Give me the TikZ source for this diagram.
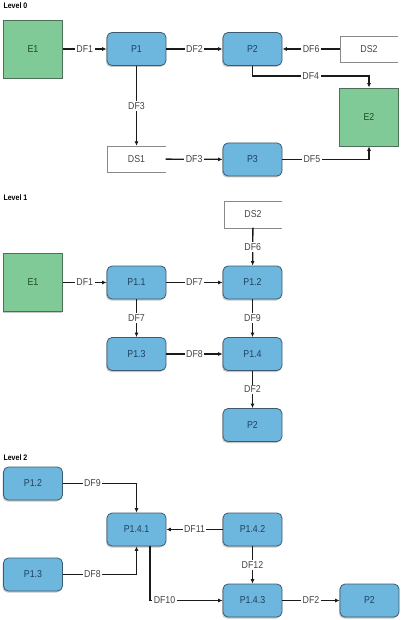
\documentclass[tikz,border=0pt]{standalone}
\usepackage{fontspec}
\setmainfont{Liberation Sans}[FakeStretch=0.88]
\usetikzlibrary{arrows.meta,shadows}

\definecolor{procfill}{HTML}{6DB6DE}
\definecolor{procline}{HTML}{3D5B6E}
\definecolor{proctext}{HTML}{1F3F5E}
\definecolor{entfill}{HTML}{80CA98}
\definecolor{entline}{HTML}{4E6E58}
\definecolor{enttext}{HTML}{1E4A2C}
\definecolor{storeline}{HTML}{8A8A8A}
\definecolor{flowline}{HTML}{1A1A1A}
\definecolor{lbltext}{HTML}{444444}

\tikzset{
  proc/.style={draw=procline, fill=procfill, rounded corners=5pt, line width=0.8pt,
    minimum width=59pt, minimum height=33pt, text=proctext,
    drop shadow={shadow xshift=-1pt, shadow yshift=-1.5pt, opacity=0.45}},
  ent/.style={draw=entline, fill=entfill, line width=0.8pt,
    minimum width=59pt, minimum height=58pt, text=enttext,
    drop shadow={shadow xshift=-1pt, shadow yshift=-1.5pt, opacity=0.45}},
  store/.style={minimum width=58pt, minimum height=26pt, text=lbltext},
  flow/.style={draw=flowline, line width=1.3pt, -{Latex[length=4.5pt,width=4pt]}},
  lbl/.style={fill=white, inner sep=1.5pt, text=lbltext},
  level/.style={anchor=west, font=\fontsize{8}{10}\selectfont\bfseries}
}

\begin{document}
\begin{tikzpicture}[x=1pt, y=-1pt, font=\fontsize{10}{12}\selectfont]
  \useasboundingbox (0,0) rectangle (400,620);

  % Level 0
  \node[level] (t0) at (0,6) {Level 0};
  \node[ent] (E1) at (33,49) {E1};
  \node[proc] (P1) at (136.5,49) {P1};
  \node[proc] (P2) at (252.5,49) {P2};
  \node[store] (DS2) at (369,49) {DS2};
  \node[ent] (E2) at (369,117) {E2};
  \node[store] (DS1) at (136.5,159) {DS1};
  \node[proc] (P3) at (252.5,159.5) {P3};
  \draw[storeline] (DS2.north east) -- (DS2.north west) -- (DS2.south west) -- (DS2.south east);
  \draw[storeline] (DS1.north east) -- (DS1.north west) -- (DS1.south west) -- (DS1.south east);
  % Draw the data flows
  \draw[flow] (E1) -- node[lbl] {DF1} (P1);
  \draw[flow] (P1) -- node[lbl] {DF2} (P2);
  \draw[flow] (DS2) -- node[lbl] {DF6} (P2);
  \draw[flow] (P2.south) -- ++(0,10) -| node[lbl, pos=0.25] {DF4} (E2.north);
  \draw[flow] (P1) -- node[lbl] {DF3} (DS1);
  \draw[flow] (DS1) -- node[lbl] {DF3} (P3);
  \draw[flow] (P3) -| node[lbl, pos=0.17] {DF5} (E2.south);

  % Level 1
  \node[level] (t1) at (0,198) {Level 1};
  \node[store] (DS2b) at (253,214.5) {DS2};
  \node[ent] (E1b) at (33,282.5) {E1};
  \node[proc] (a11) at (136.5,282.5) {P1.1};
  \node[proc] (a12) at (252.5,282.5) {P1.2};
  \node[proc] (a13) at (136.5,354) {P1.3};
  \node[proc] (a14) at (252.5,354) {P1.4};
  \node[proc] (P2b) at (252.5,425) {P2};
  \draw[storeline] (DS2b.north east) -- (DS2b.north west) -- (DS2b.south west) -- (DS2b.south east);
  % Draw the data flows
  \draw[flow] (DS2b) -- node[lbl] {DF6} (a12);
  \draw[flow] (E1b) -- node[lbl] {DF1} (a11);
  \draw[flow] (a11) -- node[lbl] {DF7} (a12);
  \draw[flow] (a11) -- node[lbl] {DF7} (a13);
  \draw[flow] (a12) -- node[lbl] {DF9} (a14);
  \draw[flow] (a13) -- node[lbl] {DF8} (a14);
  \draw[flow] (a14) -- node[lbl] {DF2} (P2b);

  % Level 2
  \node[level] (t2) at (0,458) {Level 2};
  \node[proc] (b12) at (33,483.5) {P1.2};
  \node[proc] (b141) at (136.5,529.5) {P1.4.1};
  \node[proc] (b142) at (252.5,529.5) {P1.4.2};
  \node[proc] (b13) at (33,574.5) {P1.3};
  \node[proc] (b143) at (252.5,600.5) {P1.4.3};
  \node[proc] (P2c) at (369.5,600.5) {P2};
  % Draw the data flows
  \draw[flow] (b12) -| node[lbl, pos=0.2] {DF9} (b141);
  \draw[flow] (b13) -| node[lbl, pos=0.2] {DF8} (b141);
  \draw[flow] (b142) -- node[lbl] {DF11} (b141);
  \draw[flow] (b142) -- node[lbl] {DF12} (b143);
  \draw[flow] ([xshift=13.5pt]b141.south) |- node[lbl, pos=0.6] {DF10} (b143);
  \draw[flow] (b143) -- node[lbl] {DF2} (P2c);
\end{tikzpicture}
\end{document}
